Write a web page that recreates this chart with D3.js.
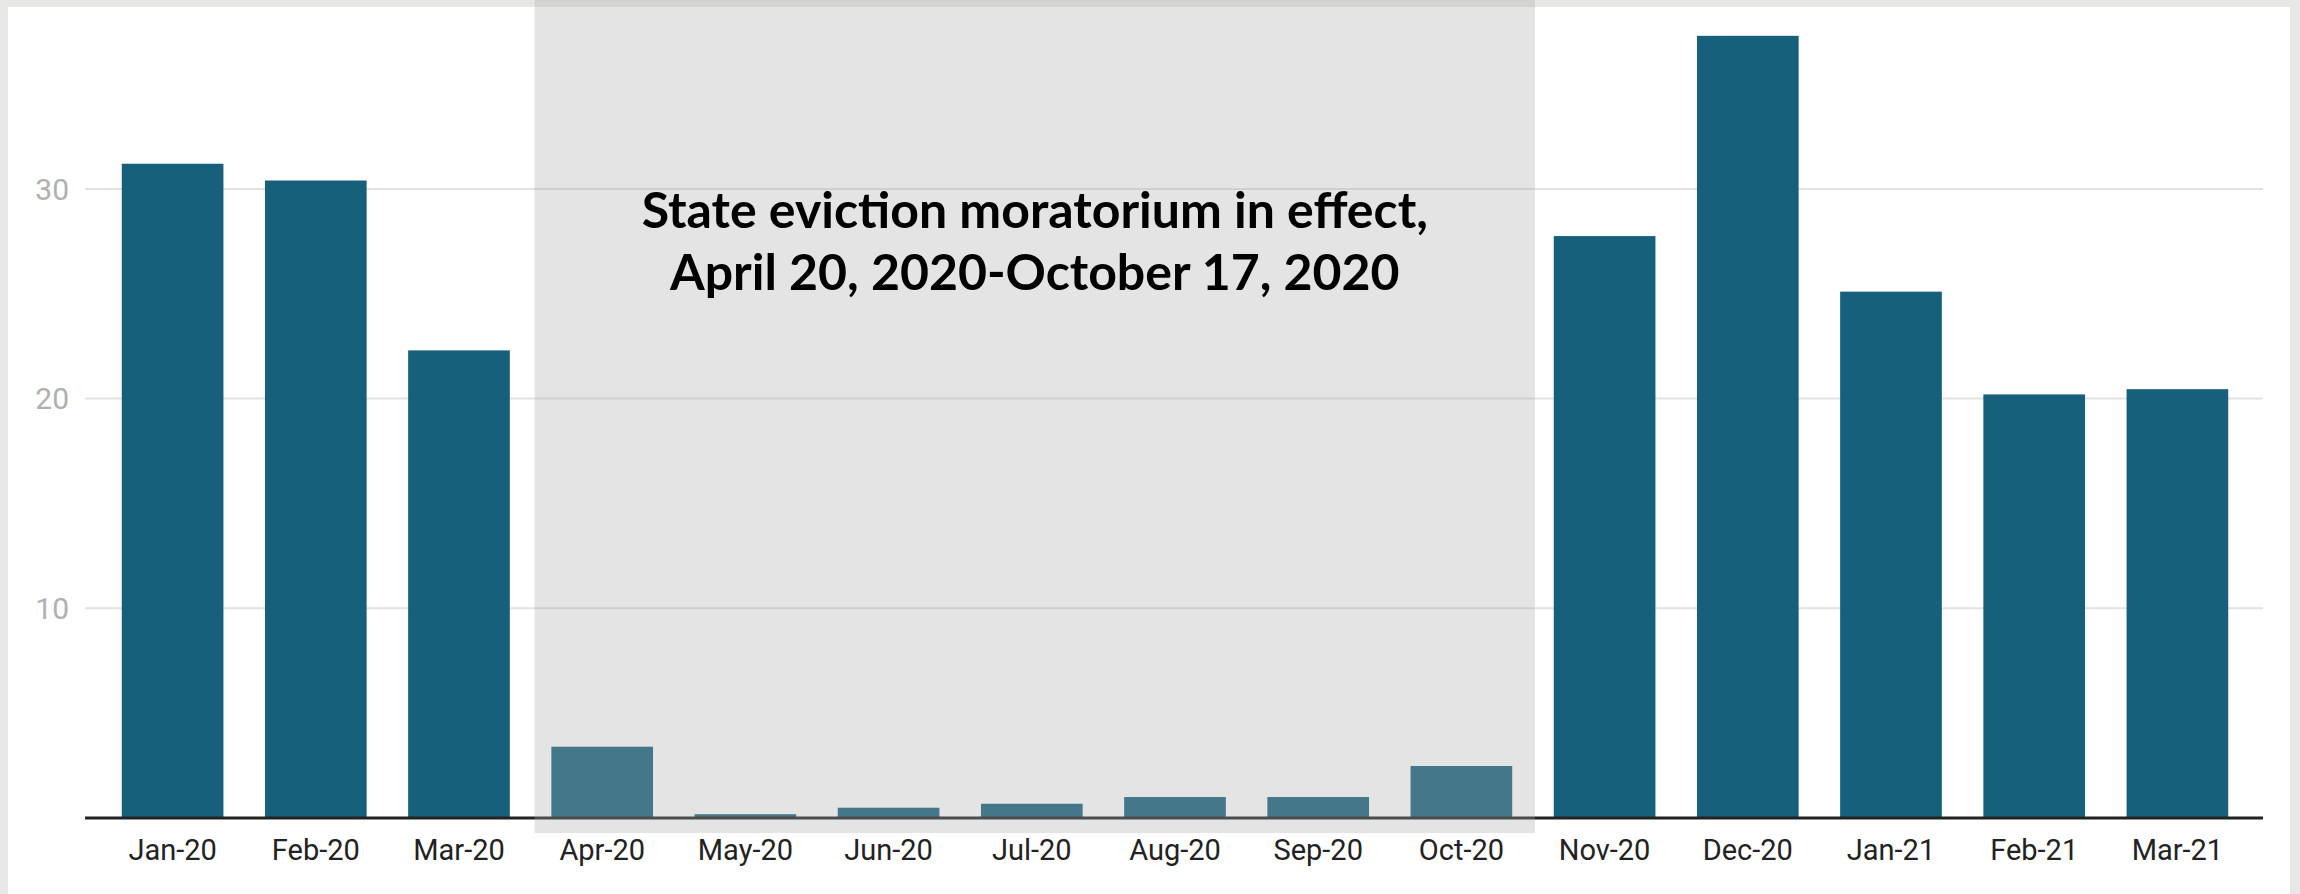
<!DOCTYPE html>
<meta charset="utf-8">
<body style="margin:0">
<style>
  body { background: #fff; }
  .tick-y { font-family: Roboto, sans-serif; font-size: 30px; fill: #b0b0b0; }
  .tick-x { font-family: Roboto, sans-serif; font-size: 29px; fill: #222; }
  .note { font-family: Lato, "Open Sans", sans-serif; font-weight: bold; font-size: 50px; fill: #000; }
</style>
<svg width="2300" height="894"></svg>
<script src="https://d3js.org/d3.v7.min.js"></script>
<script>

// data
var months = ["Jan-20", "Feb-20", "Mar-20", "Apr-20", "May-20", "Jun-20", "Jul-20", "Aug-20",
              "Sep-20", "Oct-20", "Nov-20", "Dec-20", "Jan-21", "Feb-21", "Mar-21"];
var values = [31.2, 30.4, 22.3, 3.4, 0.18, 0.49, 0.68, 1.0, 1.0, 2.48, 27.75, 37.3, 25.1, 20.2, 20.45];
var yTicks = [10, 20, 30];
var moratorium = ["Apr-20", "Oct-20"];
var noteLines = ["State eviction moratorium in effect,", "April 20, 2020-October 17, 2020"];

var svg = d3.select("svg"),
    width = +svg.attr("width"),
    height = +svg.attr("height");

// outer frame
svg.append("rect").attr("width", width).attr("height", height).attr("fill", "#e7e7e5");
svg.append("rect").attr("x", 8).attr("y", 7).attr("width", width - 18).attr("height", height - 7).attr("fill", "#fff");

var x = d3.scaleBand()
    .domain(months)
    .range([101, 2249])
    .paddingInner(0.29)
    .paddingOuter(0.145);

var y = d3.scaleLinear()
    .domain([0, 38])
    .range([818, 818 - 38 * 20.97]);

var left = 85, right = 2263;

// gridlines
svg.append("g").selectAll("line")
    .data(yTicks)
    .enter().append("line")
      .attr("x1", left).attr("x2", right)
      .attr("y1", function(d) { return y(d); })
      .attr("y2", function(d) { return y(d); })
      .attr("stroke", "#e2e2e2")
      .attr("stroke-width", 2);

svg.append("g").selectAll("text")
    .data(yTicks)
    .enter().append("text")
      .attr("class", "tick-y")
      .attr("x", 69)
      .attr("y", function(d) { return y(d); })
      .attr("dy", "0.36em")
      .attr("text-anchor", "end")
      .text(function(d) { return d; });

// bars
svg.append("g").selectAll("rect")
    .data(months)
    .enter().append("rect")
      .attr("x", function(d) { return x(d); })
      .attr("width", x.bandwidth())
      .attr("y", function(d, i) { return y(values[i]); })
      .attr("height", function(d, i) { return y(0) - y(values[i]); })
      .attr("fill", "#17607c");

// axis line
svg.append("line")
    .attr("x1", left).attr("x2", right)
    .attr("y1", y(0)).attr("y2", y(0))
    .attr("stroke", "#222")
    .attr("stroke-width", 3);

svg.append("g").selectAll("text")
    .data(months)
    .enter().append("text")
      .attr("class", "tick-x")
      .attr("x", function(d) { return x(d) + x.bandwidth() / 2; })
      .attr("y", 860)
      .attr("text-anchor", "middle")
      .text(function(d) { return d; });

// moratorium shade on top
var gap = x.step() - x.bandwidth();
var sx0 = x(moratorium[0]) - gap / 2 + 4,
    sx1 = x(moratorium[1]) + x.bandwidth() + gap / 2 + 2;
svg.append("rect")
    .attr("x", sx0)
    .attr("y", 0)
    .attr("width", sx1 - sx0)
    .attr("height", 833)
    .attr("fill", "rgb(169,169,169)")
    .attr("fill-opacity", 0.315);

svg.append("g").selectAll("text")
    .data(noteLines)
    .enter().append("text")
      .attr("class", "note")
      .attr("x", (sx0 + sx1) / 2)
      .attr("y", function(d, i) { return 228 + i * 62; })
      .attr("text-anchor", "middle")
      .text(function(d) { return d; });

</script>
</body>
